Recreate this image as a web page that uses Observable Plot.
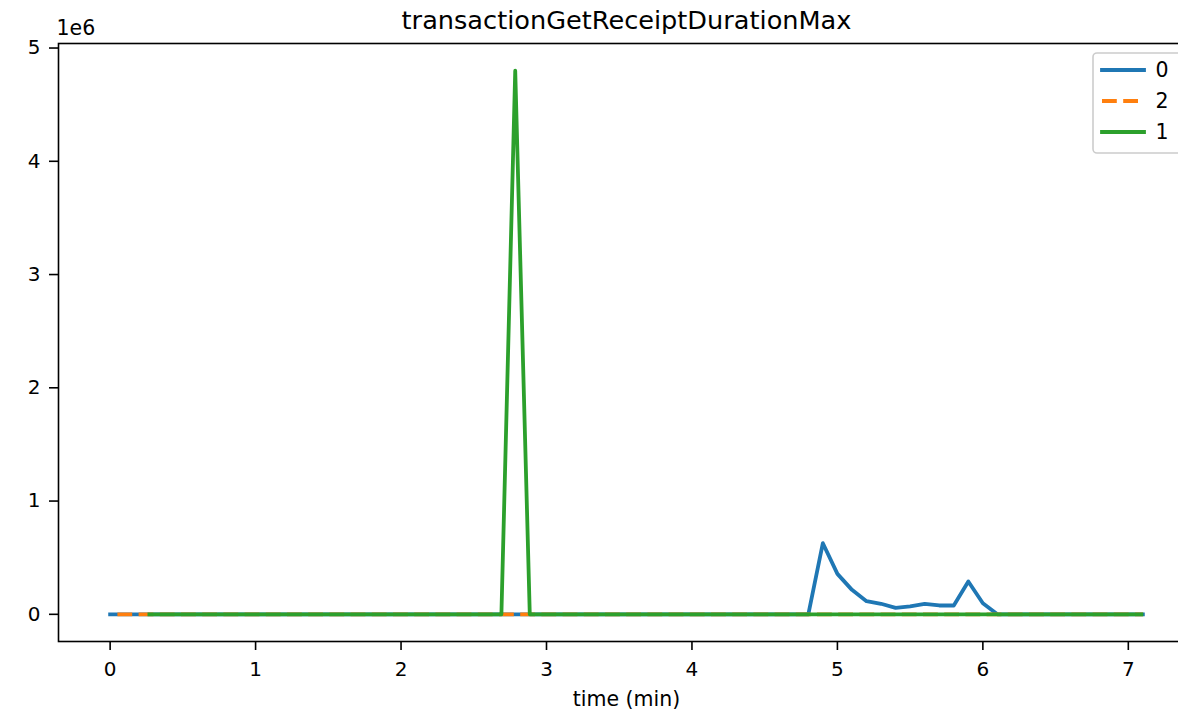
<!DOCTYPE html>
<html>
<head>
<meta charset="utf-8">
<script src="https://cdn.jsdelivr.net/npm/d3@7"></script>
<script src="https://cdn.jsdelivr.net/npm/@observablehq/plot@0.6"></script>
<style>
  html, body { margin: 0; padding: 0; background: white; }
  #chart svg [aria-label*="axis"] path,
  #chart svg [aria-label*="axis"] line { stroke-width: 1.6px; }
</style>
</head>
<body>
<div id="chart"></div>
<script>
// ---- data ----
const chartTitle = "transactionGetReceiptDurationMax";
const xLabel = "time (min)";
const seriesNames = ["0", "2", "1"];
const seriesColors = ["#1f77b4", "#ff7f0e", "#2ca02c"];

// series "0" (blue)
const time0 = [0, 4.8, 4.9, 5.0, 5.1, 5.2, 5.3, 5.4, 5.5, 5.6, 5.7, 5.8, 5.9, 6.0, 6.1, 7.1];
const value0 = [0, 0, 628000, 357000, 216000, 116000, 93000, 57000, 71000, 93000, 78000, 78000, 290000, 98000, 0, 0];
// series "2" (orange, dashed) — flat at zero
const time2 = [0.05, 7.1];
const value2 = [0, 0];
// series "1" (green)
const time1 = [0.27, 2.69, 2.785, 2.885, 7.09];
const value1 = [0, 0, 4800000, 0, 0];

const xTicks = [0, 1, 2, 3, 4, 5, 6, 7];
const yTicks = [0, 1e6, 2e6, 3e6, 4e6, 5e6];
const yExponentLabel = "1e6";

const toRows = (t, v) => t.map((d, i) => ({time: d, value: v[i]}));
const rows0 = toRows(time0, value0);
const rows2 = toRows(time2, value2);
const rows1 = toRows(time1, value1);

const font = "DejaVu Sans";

const svg = Plot.plot({
  width: 1178,
  height: 713,
  marginLeft: 58,
  marginTop: 43,
  marginBottom: 72,
  marginRight: -16,
  style: {fontFamily: font, fontSize: "20px", color: "black", background: "white", overflow: "hidden", maxWidth: "none"},
  x: {domain: [-0.355, 7.455], ticks: xTicks, tickSize: 9, tickPadding: 11, label: null, tickFormat: d => String(d)},
  y: {domain: [-0.24e6, 5.04e6], ticks: yTicks, tickSize: 9, tickPadding: 9, label: null, tickFormat: d => String(d / 1e6)},
  marks: [
    Plot.line(rows0, {x: "time", y: "value", stroke: seriesColors[0], strokeWidth: 3.8, strokeLinecap: "square", strokeLinejoin: "round"}),
    Plot.line(rows2, {x: "time", y: "value", stroke: seriesColors[1], strokeWidth: 3.8, strokeLinecap: "butt", strokeDasharray: "14.8 6.4"}),
    Plot.line(rows1, {x: "time", y: "value", stroke: seriesColors[2], strokeWidth: 3.8, strokeLinecap: "square", strokeLinejoin: "round"}),
    Plot.frame({stroke: "black", strokeWidth: 1.6}),
    Plot.text([chartTitle], {text: d => d, frameAnchor: "top", lineAnchor: "bottom", dy: -15, fontSize: 25.6, fill: "black"}),
    Plot.text([yExponentLabel], {text: d => d, frameAnchor: "top-left", textAnchor: "start", lineAnchor: "bottom", dx: -2, dy: -9, fontSize: 20.5, fill: "black"}),
    Plot.text([xLabel], {text: d => d, frameAnchor: "bottom", lineAnchor: "bottom", dy: 64, fontSize: 20.5, fill: "black"})
  ]
});

document.getElementById("chart").appendChild(svg);

// ---- legend (matplotlib style, upper right, partly cropped) ----
const lg = d3.select(svg).append("g").attr("class", "legend");
lg.append("rect")
  .attr("x", 1093).attr("y", 53).attr("width", 110).attr("height", 100)
  .attr("rx", 4).attr("ry", 4)
  .attr("fill", "white").attr("fill-opacity", 0.8)
  .attr("stroke", "#cccccc").attr("stroke-width", 1.6);
const rowY = [70, 101, 132];
seriesNames.forEach((name, i) => {
  const dashed = name === "2";
  lg.append("line")
    .attr("x1", 1102).attr("x2", 1144)
    .attr("y1", rowY[i]).attr("y2", rowY[i])
    .attr("stroke", seriesColors[i])
    .attr("stroke-width", 3.8)
    .attr("stroke-linecap", dashed ? "butt" : "square")
    .attr("stroke-dasharray", dashed ? "14.8 6.4" : null);
  lg.append("text")
    .attr("x", 1162).attr("y", rowY[i]).attr("dy", "0.36em")
    .attr("font-family", font).attr("font-size", 20.5).attr("fill", "black")
    .text(name);
});
</script>
</body>
</html>
